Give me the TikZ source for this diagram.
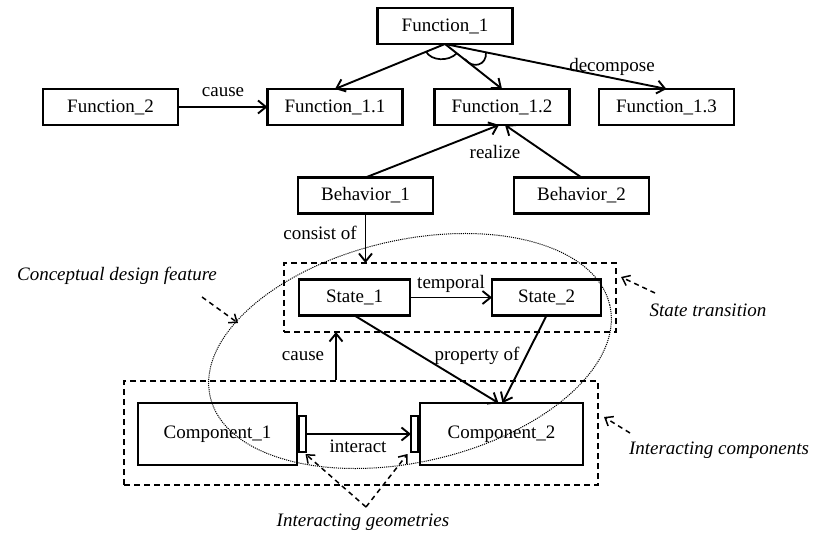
\documentclass[tikz,border=0pt]{standalone}
\usepackage{fontspec}
\setmainfont{Liberation Serif}
\usetikzlibrary{arrows.meta,calc}
\begin{document}
\begin{tikzpicture}[x=1pt,y=-1pt,
  every node/.style={font=\fontsize{19}{22}\selectfont},
  box/.style={draw, line width=2.2pt, minimum width=#1, minimum height=36pt, inner sep=0pt, outer sep=0pt},
  box/.default=135pt,
  tallbox/.style={draw, line width=2.2pt, minimum width=#1, minimum height=62pt, inner sep=0pt, outer sep=0pt},
  geom/.style={draw, line width=2.2pt, minimum width=7pt, minimum height=36pt, inner sep=0pt, outer sep=0pt},
  groupbox/.style={draw, line width=1.8pt, dash pattern=on 6pt off 4pt, inner sep=0pt, outer sep=0pt},
  lbl/.style={inner sep=0pt},
  note/.style={inner sep=0pt, font=\fontsize{19}{22}\selectfont\itshape},
  conn/.style={line width=1.9pt, -{Straight Barb[length=8pt,width=13pt]}},
  plainline/.style={line width=1.7pt},
  pointer/.style={line width=1.5pt, dash pattern=on 5pt off 4pt, -{Straight Barb[length=7pt,width=11pt]}},
  feature/.style={line width=1pt, dash pattern=on 1.1pt off 1pt}
]
\useasboundingbox (0,0) rectangle (814,537);

% grouping frames
\node[groupbox, minimum width=332pt, minimum height=69pt] (ST) at (450,297.5) {};
\node[groupbox, minimum width=474pt, minimum height=104pt] (IC) at (361,433) {};

% function level
\node[box] (F1)  at (445,26)    {Function\_1};
\node[box] (F2)  at (110.5,107) {Function\_2};
\node[box] (F11) at (335,107)   {Function\_1.1};
\node[box] (F12) at (502,107)   {Function\_1.2};
\node[box] (F13) at (666.5,107) {Function\_1.3};

% behaviour level
\node[box] (B1) at (365.5,195.5) {Behavior\_1};
\node[box] (B2) at (581.5,195.5) {Behavior\_2};

% states
\node[box=111pt] (S1) at (354.5,297.5) {State\_1};
\node[box=109pt] (S2) at (546.5,297.5) {State\_2};

% components and their interacting geometries
\node[tallbox=159pt] (C1) at (217.5,434) {Component\_1};
\node[tallbox=163pt] (C2) at (501.5,434) {Component\_2};
\node[geom] (G1) at (302.5,434) {};
\node[geom] (G2) at (414.5,434) {};

% decomposition of Function_1 (AND arcs between the branches)
\draw[conn] (F1.south) -- (F11.north);
\draw[conn] (F1.south) -- (F12.north);
\draw[conn] (F1.south) -- (F13.north);
\draw[plainline] ($(F1.south)+(-19,7.5)$) .. controls ($(F1.south)+(-14,17)$) and ($(F1.south)+(4,18)$) .. ($(F1.south)+(12,9)$);
\draw[plainline] ($(F1.south)+(20,15)$) .. controls ($(F1.south)+(27,25)$) and ($(F1.south)+(42,22)$) .. ($(F1.south)+(41,8)$);
\node[lbl] (decomp) at (612,67) {decompose};

\draw[conn] (F2.east) -- (F11.west);
\node[lbl] (causeA) at (223,92) {cause};

% realisation
\draw[conn] (B1.north) -- ([xshift=-3pt]F12.south);
\draw[conn] (B2.north) -- ([xshift=3pt]F12.south);
\node[lbl] (realize) at (495,152) {realize};

\draw[conn] (B1.south) -- (B1.south |- ST.north);
\node[lbl] (consist) at (320,233) {consist of};

% state transition
\draw[conn] (S1.east) -- (S2.west);
\node[lbl] (temporal) at (451,284) {temporal};
\draw[conn] (S1.south) -- ([xshift=-3pt]C2.north);
\draw[conn] (S2.south) -- ([xshift=1pt]C2.north);
\node[lbl] (propof) at (477,356) {property of};

\coordinate (causeBase) at (336,380);
\draw[conn] (causeBase) -- (causeBase |- ST.south);
\node[lbl] (causeB) at (303,356) {cause};

% interaction
\draw[conn] (G1.east) -- (G2.west);
\node[lbl] (interact) at (358,446) {interact};

% conceptual design feature outline
\draw[feature, rotate around={12.9:(410,351)}] (410,351) ellipse [x radius=205pt, y radius=111pt];

% annotations
\node[note] (nCDF) at (117,276) {Conceptual design feature};
\coordinate (cdfTip) at (238,323);
\draw[pointer] (202,297) -- (cdfTip);

\node[note] (nST) at (708,310) {State transition};
\draw[pointer] (655,293) -- ([xshift=5pt]ST.east |- 0,277);

\node[note] (nIC) at (719,450) {Interacting components};
\draw[pointer] (630,433) -- ([xshift=6pt]IC.east |- 0,417);

\node[note] (nIG) at (363,522) {Interacting geometries};
\coordinate (igVertex) at (366,507);
\draw[pointer] (igVertex) -- ([xshift=3pt,yshift=-2pt]G1.south);
\draw[pointer] (igVertex) -- ([xshift=-7pt,yshift=-2pt]G2.south);
\end{tikzpicture}
\end{document}
